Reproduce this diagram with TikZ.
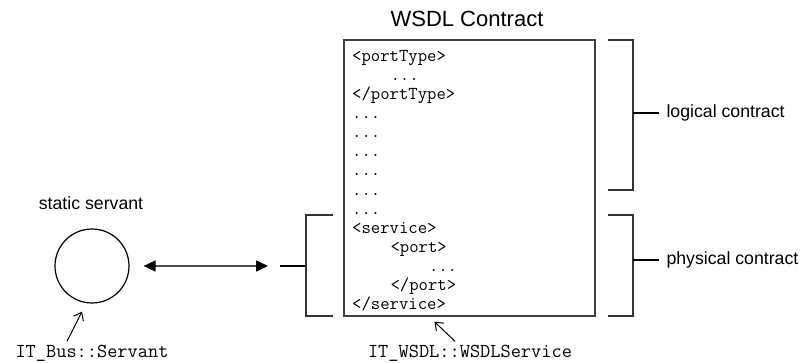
\documentclass[tikz,border=0pt]{standalone}
\usepackage{fontspec}
\setmainfont{Liberation Sans}
\usetikzlibrary{arrows.meta}

\begin{document}
\begin{tikzpicture}[x=1pt,y=-1pt,
  lbl/.style={font=\fontsize{17.7}{20}\selectfont},
  cls/.style={font=\fontsize{19.8}{22}\selectfont\ttfamily},
  code/.style={font=\fontsize{18.2}{21}\selectfont\ttfamily,anchor=base west,inner sep=0pt},
  brk/.style={draw=black!80,line width=1.2pt},
  tick/.style={line width=1.8pt},
  ptr/.style={-{Straight Barb[length=7pt,width=11pt]},line width=1pt}]
\useasboundingbox (0,0) rectangle (807,362);
\node[draw=black!75,line width=1.4pt,minimum width=251pt,minimum height=276pt,inner sep=0pt] (wsdl) at (469.5,178) {};
\node[font=\fontsize{22}{26}\selectfont] (title) at (467,19) {WSDL Contract};
\foreach \ind/\txt [count=\i from 0] in {0/{<portType>},4/{...},0/{</portType>},0/{...},0/{...},0/{...},0/{...},0/{...},0/{...},0/{<service>},4/{<port>},8/{...},4/{</port>},0/{</service>}}
  \node[code] (line\i) at (352+9.6*\ind,61+19.15*\i) {\txt};

\node[circle,draw,line width=1.2pt,minimum size=74pt,inner sep=0pt] (servant) at (92,266) {};
\node[lbl] (servlbl) at (91,203) {static servant};
\node[cls] (buscls) at (92,353) {IT\_Bus::Servant};
\node[cls] (wsdlcls) at (470,353) {IT\_WSDL::WSDLService};
\draw[ptr] ([xshift=-25pt]buscls.north) -- ([xshift=-10pt,yshift=-8pt]servant.south);
\draw[ptr] ([xshift=-15pt]wsdlcls.north) -- ([xshift=-35pt,yshift=-5pt]wsdl.south);

\coordinate (pt) at (280,266);
\coordinate (pb) at (306,266);
\draw[black!70,line width=1.6pt,{Triangle[length=12pt,width=11pt,color=black]}-{Triangle[length=12pt,width=11pt,color=black]},shorten <=14pt,shorten >=12pt] (servant) -- (pt);
\draw[tick] (pt) -- (pb);
\draw[brk] (333,215) -- (306,215) -- (306,316) -- (333,316);

\draw[brk] (608,40) -- (633,40) -- (633,190) -- (608,190);
\draw[brk] (608,215) -- (633,215) -- (633,316) -- (608,316);
\coordinate (lb) at (633,113);
\coordinate (pyb) at (633,260);
\node[lbl,anchor=west] (logic) at (663,113) {logical contract};
\node[lbl,anchor=west] (phys) at (663,260) {physical contract};
\draw[tick,shorten >=4pt] (lb) -- (logic.west);
\draw[tick,shorten >=4pt] (pyb) -- (phys.west);
\end{tikzpicture}
\end{document}
